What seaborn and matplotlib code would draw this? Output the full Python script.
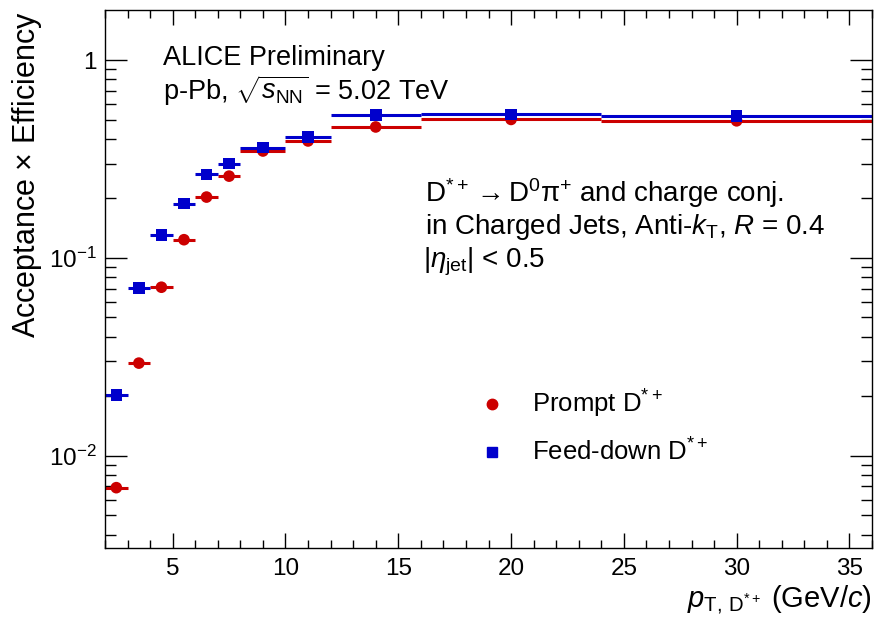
import numpy as np
import pandas as pd
import matplotlib
matplotlib.use("Agg")
import matplotlib.pyplot as plt
import matplotlib.ticker as mticker
from matplotlib.lines import Line2D
import seaborn as sns

# pT bins of the D*+ meson (GeV/c)
bin_lo = [2, 3, 4, 5, 6, 7, 8, 10, 12, 16, 24]
bin_hi = [3, 4, 5, 6, 7, 8, 10, 12, 16, 24, 36]

# Acceptance x efficiency per bin
eff_prompt = [0.0069, 0.0294, 0.0711, 0.1236, 0.203, 0.259, 0.347, 0.390, 0.459, 0.501, 0.493]
eff_feeddown = [0.0203, 0.0706, 0.131, 0.188, 0.264, 0.300, 0.361, 0.409, 0.527, 0.531, 0.520]

series_names = ["Prompt", "Feed-down"]
series_labels = [r"Prompt D$^{*+}$", r"Feed-down D$^{*+}$"]
red = "#cc0000"
blue = "#0000cc"

sns.set_theme(style="ticks")
plt.rcParams["font.family"] = ["Liberation Sans", "DejaVu Sans"]
plt.rcParams["mathtext.fontset"] = "custom"
plt.rcParams["mathtext.rm"] = "Liberation Sans"
plt.rcParams["mathtext.it"] = "Liberation Sans:italic"
plt.rcParams["mathtext.bf"] = "Liberation Sans:bold"
for key in ["text.color", "axes.labelcolor", "xtick.color", "ytick.color",
            "xtick.labelcolor", "ytick.labelcolor", "axes.edgecolor"]:
    plt.rcParams[key] = "black"

rows = []
for name, vals in zip(series_names, [eff_prompt, eff_feeddown]):
    for lo, hi, v in zip(bin_lo, bin_hi, vals):
        rows.append({"series": name, "lo": lo, "hi": hi,
                     "pt": 0.5 * (lo + hi), "eff": v})
df = pd.DataFrame(rows)

fig = plt.figure(figsize=(8.76, 6.22), dpi=100)
ax = fig.add_axes([0.1199, 0.1190, 0.8755, 0.8649])
ax.set_yscale("log")

palette = {"Prompt": red, "Feed-down": blue}
markers = {"Prompt": "o", "Feed-down": "s"}

# bin-width bars
for name in series_names:
    sub = df[df.series == name]
    ax.hlines(sub["eff"], sub["lo"], sub["hi"], color=palette[name], lw=2.2, zorder=2)

sns.scatterplot(data=df, x="pt", y="eff", hue="series", style="series",
                palette=palette, markers=markers, s=70, edgecolor="none",
                legend=False, ax=ax, zorder=3)

ax.set_xlim(2, 36)
ax.set_ylim(0.00342, 1.79)

ax.xaxis.set_major_locator(mticker.MultipleLocator(5))
ax.xaxis.set_minor_locator(mticker.MultipleLocator(1))
ax.yaxis.set_major_locator(mticker.FixedLocator([0.01, 0.1, 1]))
ax.yaxis.set_major_formatter(mticker.FixedFormatter([r"$10^{-2}$", r"$10^{-1}$", "1"]))
ax.yaxis.set_minor_locator(mticker.LogLocator(base=10, subs=np.arange(2, 10)))
ax.yaxis.set_minor_formatter(mticker.NullFormatter())

ax.tick_params(axis="both", which="both", direction="in", top=True, right=True,
               color="black", width=1, labelsize=17.5)
ax.tick_params(axis="y", which="major", length=16, pad=6)
ax.tick_params(axis="y", which="minor", length=8)
ax.tick_params(axis="x", which="major", length=11, pad=7)
ax.tick_params(axis="x", which="minor", length=6)
for sp in ax.spines.values():
    sp.set_linewidth(1.0)
    sp.set_color("black")

ax.set_xlabel(r"$p_{\mathrm{T,\,D^{*+}}}$ (GeV/$c$)", fontsize=21, ha="right", x=1.0)
ax.set_ylabel(r"Acceptance $\times$ Efficiency", fontsize=22, ha="right", y=1.0)
ax.xaxis.set_label_coords(1.0, -0.065)
ax.yaxis.set_label_coords(-0.08, 0.998)

ax.text(0.0756, 0.898, "ALICE Preliminary", transform=ax.transAxes, fontsize=19.5)
ax.text(0.0756, 0.833, r"p-Pb, $\sqrt{s_{\mathrm{NN}}}$ = 5.02 TeV",
        transform=ax.transAxes, fontsize=19.5)
ax.text(0.417, 0.643, r"D$^{*+}\rightarrow$D$^{0}$π$^{+}$ and charge conj.",
        transform=ax.transAxes, fontsize=20)
ax.text(0.417, 0.5836, r"in Charged Jets, Anti-$k_{\mathrm{T}}$, $R$ = 0.4",
        transform=ax.transAxes, fontsize=20)
ax.text(0.415, 0.5223, r"$|\eta_{\mathrm{jet}}|$ < 0.5",
        transform=ax.transAxes, fontsize=20)

handles = [Line2D([], [], ls="none", marker="o", color=red, markersize=7.5),
           Line2D([], [], ls="none", marker="s", color=blue, markersize=6.5)]
ax.legend(handles, series_labels, loc="center left", bbox_to_anchor=(0.4876, 0.225),
          frameon=False, fontsize=18.5, handlelength=1.0, handletextpad=1.08,
          labelspacing=0.7, borderpad=0, borderaxespad=0)

fig.savefig("out.png", dpi=100)
